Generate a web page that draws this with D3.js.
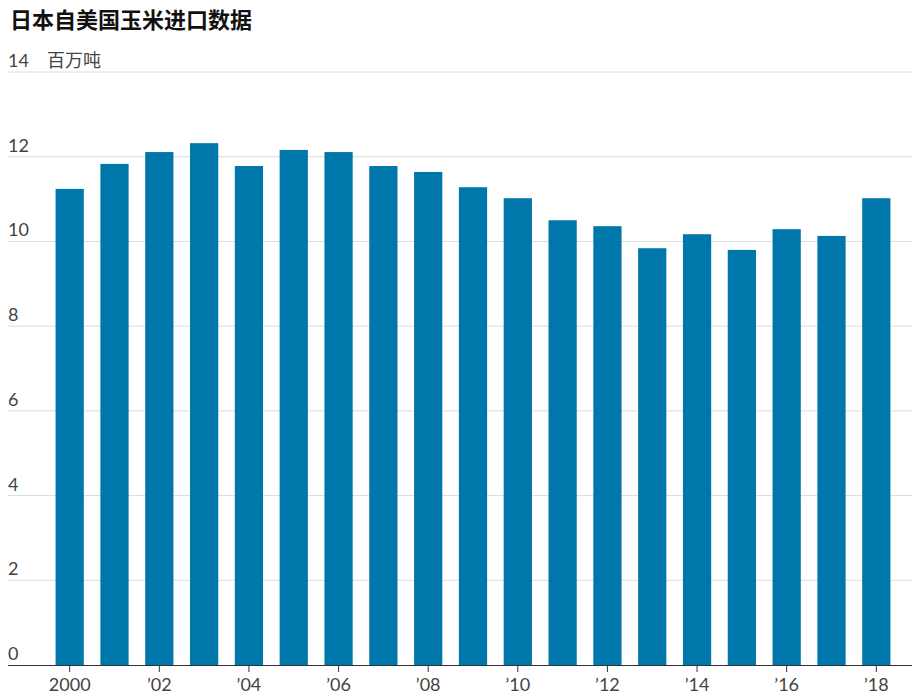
<!DOCTYPE html>
<html>
<head>
<meta charset="utf-8">
<script src="https://cdnjs.cloudflare.com/ajax/libs/d3/7.8.5/d3.min.js"></script>
<style>
  body { margin: 0; background: #fff; font-family: "Noto Sans CJK SC", Lato, sans-serif; }
</style>
</head>
<body>
<svg id="chart" width="919" height="697"></svg>
<script>
const years = d3.range(2000, 2019);
const imports = [11.24, 11.83, 12.11, 12.32, 11.78, 12.16, 12.11, 11.78, 11.64, 11.28,
                 11.02, 10.5, 10.36, 9.84, 10.17, 9.8, 10.29, 10.13, 11.02];
const yTicks = [0, 2, 4, 6, 8, 10, 12, 14];
const xTickYears = [2000, 2002, 2004, 2006, 2008, 2010, 2012, 2014, 2016, 2018];

const svg = d3.select("#chart");
const plotLeft = 8, plotRight = 912, plotTop = 72, plotBottom = 665;

const x = d3.scaleBand().domain(years).range([plotLeft + 31, plotRight - 5]).padding(0.37);
const y = d3.scaleLinear().domain([0, 14]).range([plotBottom, plotTop]);

svg.append("text")
  .attr("x", 10).attr("y", 28)
  .attr("font-size", 22).attr("font-weight", "bold").attr("fill", "#111")
  .text("日本自美国玉米进口数据");

// grid
svg.append("g").selectAll("line")
  .data(yTicks.filter(d => d > 0))
  .join("line")
  .attr("x1", plotLeft).attr("x2", plotRight)
  .attr("y1", d => y(d)).attr("y2", d => y(d))
  .attr("stroke", "#dcdcdc");

svg.append("g").selectAll("text")
  .data(yTicks)
  .join("text")
  .attr("x", plotLeft).attr("y", d => y(d) - 5)
  .attr("font-size", 18).attr("fill", "#444")
  .attr("font-family", "Lato, sans-serif")
  .text(d => d);

svg.append("text")
  .attr("x", 47).attr("y", y(14) - 5)
  .attr("font-size", 18).attr("fill", "#444")
  .text("百万吨");

svg.append("g").selectAll("rect")
  .data(imports)
  .join("rect")
  .attr("x", (d, i) => x(years[i]))
  .attr("width", x.bandwidth())
  .attr("y", d => y(d))
  .attr("height", d => y(0) - y(d))
  .attr("fill", "#0077ab");

const axis = svg.append("g")
  .attr("transform", `translate(0,${plotBottom})`)
  .call(d3.axisBottom(x)
    .tickValues(xTickYears)
    .tickSize(7)
    .tickFormat(d => d === 2000 ? "2000" : "\u2019" + String(d).slice(2)));
axis.select(".domain").attr("d", `M${plotLeft},0.5H${plotRight}`).attr("stroke", "#333");
axis.selectAll(".tick line").attr("stroke", "#333");
axis.selectAll(".tick text")
  .attr("font-size", 18).attr("fill", "#444")
  .attr("font-family", "Lato, sans-serif").attr("dy", "0.9em");
</script>
</body>
</html>
